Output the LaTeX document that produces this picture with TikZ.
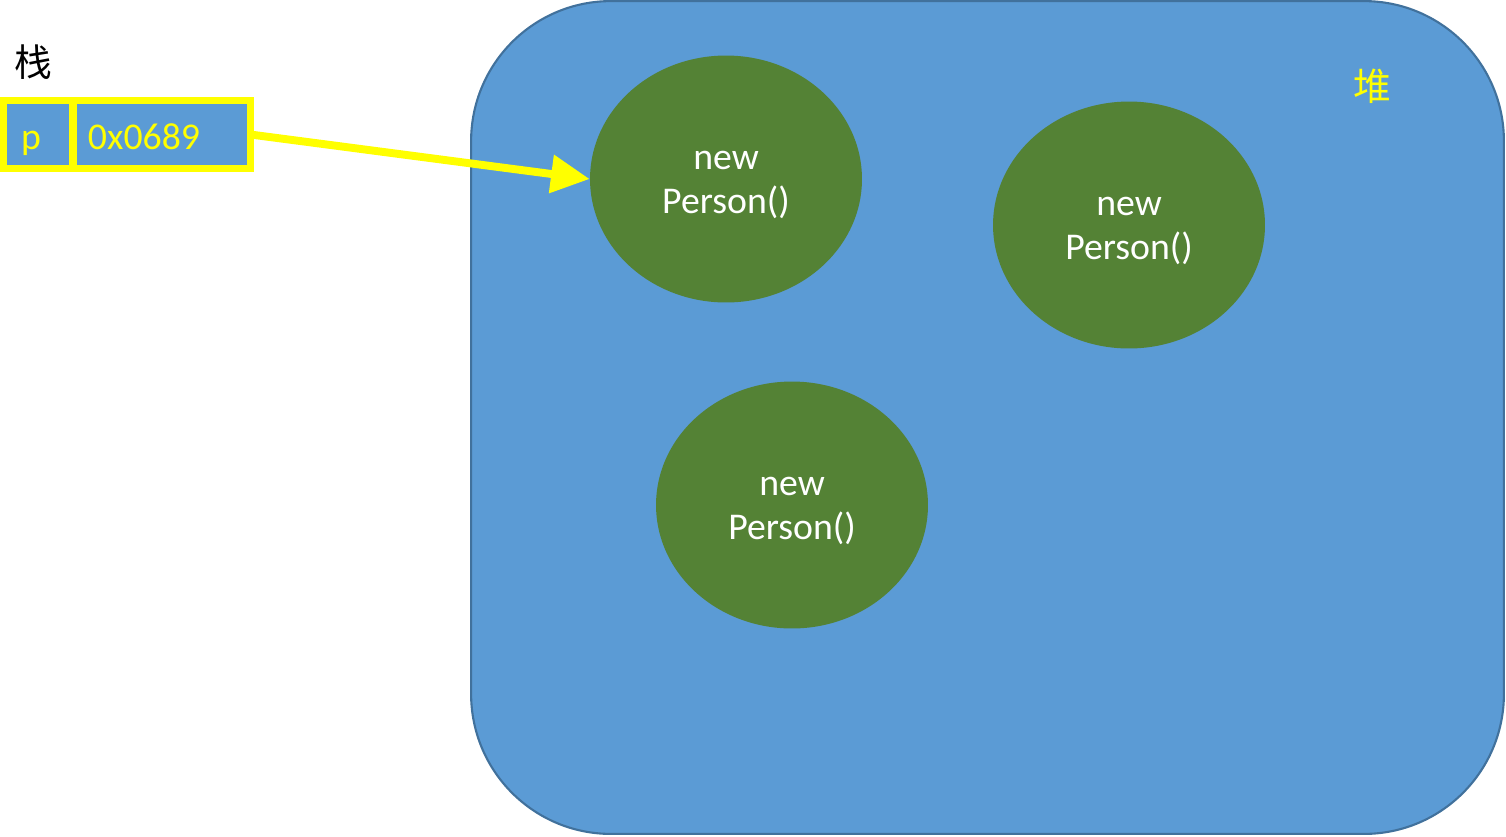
\documentclass[tikz,border=0pt]{standalone}
\usepackage{fontspec}
\setmainfont{Carlito}
\newfontfamily\cjk{Noto Sans CJK SC}
\usetikzlibrary{arrows.meta}
\usetikzlibrary{positioning}
\usetikzlibrary{shapes.geometric}
\definecolor{mblue}{HTML}{5B9BD5}
\definecolor{mborder}{HTML}{41719C}
\definecolor{mgreen}{HTML}{548235}
\definecolor{myellow}{HTML}{FFFF00}
\tikzset{txt/.style = {font=\fontsize{21.5}{25}\selectfont}}
\tikzset{heap/.style = {draw=mborder, fill=mblue, line width=1.2pt, rounded corners=2.8cm,
                        minimum width=20.66cm, minimum height=16.66cm}}
\tikzset{obj/.style = {ellipse, fill=mgreen, text=white, align=center, inner sep=0,
                       text height=39.5pt, text depth=0pt,
                       minimum width=5.44cm, minimum height=4.94cm, txt}}
\tikzset{cell/.style = {draw=myellow, fill=mblue, text=myellow, line width=4pt, outer sep=0,
                        minimum height=1.36cm, text height=17pt, text depth=0pt, align=left, txt}}
\tikzset{ptr/.style = {draw=myellow, line width=4.5pt, -{Triangle[length=22pt, width=21pt]}}}

\begin{document}
\begin{tikzpicture}[x=0.02cm, y=-0.02cm]
      \useasboundingbox (0, 0) rectangle (1506, 836);
      \node [heap] (heap) at (987.5, 417.5) {};
      \node [txt, text=myellow] (heaplabel) at (1372, 86) {\cjk 堆};
      \node [txt] (stacklabel) at (33, 62) {\cjk 栈};

      \node [obj] (obj1) at (726, 179) {new\\Person()};
      \node [obj] (obj2) at (1129, 225) {new\\Person()};
      \node [obj] (obj3) at (792, 505) {new\\Person()};

      \node [cell, text width=0.69cm, inner xsep=0.35cm] (p) at (38.25, 134.5) {p};
      \node [cell, right=0 of p, text width=2.95cm, inner xsep=0.3cm] (val) {0x0689};

      \draw [ptr] (val.east) -- (obj1.west);
    \end{tikzpicture}
\end{document}
